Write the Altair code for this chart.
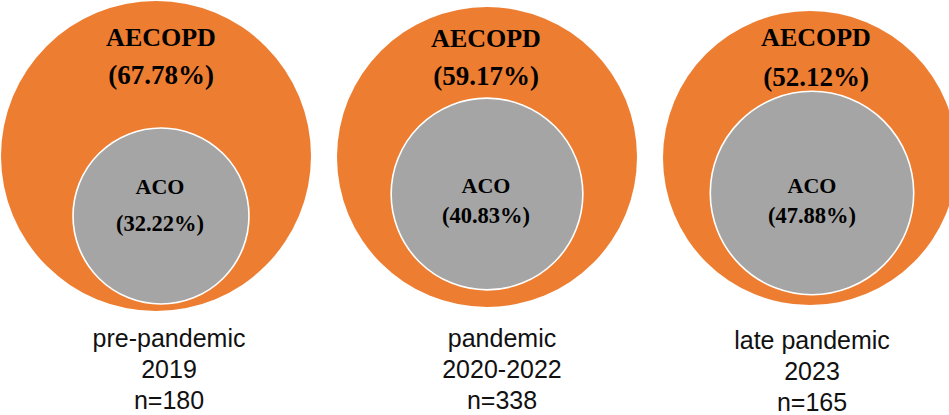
import altair as alt
import pandas as pd

# ---- data ----
periods = ["pre-pandemic", "pandemic", "late pandemic"]
years = ["2019", "2020-2022", "2023"]
n_values = [180, 338, 165]
aecopd_pct = [67.78, 59.17, 52.12]
aco_pct = [32.22, 40.83, 47.88]

# ---- layout (pixel space of the 949x415 canvas) ----
W, H = 949, 415
outer_cx = [156, 487, 810]
outer_cy = [156, 157, 158]
outer_d = [310, 300, 294]
inner_cx = [161, 487, 812]
inner_cy = [216, 194, 193]
title_x = [161, 486, 816]
title_y = [46, 47, 46]      # baseline of "AECOPD"
title_pct_y = [84, 85, 86]
aco_x = [160, 486, 812]
aco_y = [194, 193, 193]
aco_pct_y = [231, 223, 223]
label_x = [169, 502, 812]
label_y0 = [347, 347, 349]
line_gap = 31

ORANGE = "#ED7D31"
GRAY = "#A5A5A5"

circ_rows = []
for i in range(3):
    circ_rows.append(dict(kind="outer", x=outer_cx[i], y=outer_cy[i],
                          s=outer_d[i] ** 2, share=100.0))
    d_in = outer_d[i] * (aco_pct[i] / 100.0) ** 0.5  # area proportional to ACO share
    circ_rows.append(dict(kind="inner", x=inner_cx[i], y=inner_cy[i],
                          s=d_in ** 2, share=aco_pct[i]))
circ = pd.DataFrame(circ_rows)

serif_rows = []
for i in range(3):
    serif_rows.append(dict(t="AECOPD", x=title_x[i], y=title_y[i], fs=26))
    serif_rows.append(dict(t=f"({aecopd_pct[i]:.2f}%)", x=title_x[i], y=title_pct_y[i], fs=27))
    serif_rows.append(dict(t="ACO", x=aco_x[i], y=aco_y[i], fs=22))
    serif_rows.append(dict(t=f"({aco_pct[i]:.2f}%)", x=aco_x[i], y=aco_pct_y[i], fs=22.5))
serif = pd.DataFrame(serif_rows)

sans_rows = []
for i in range(3):
    sans_rows.append(dict(t=periods[i], x=label_x[i], y=label_y0[i]))
    sans_rows.append(dict(t=years[i], x=label_x[i], y=label_y0[i] + line_gap))
    sans_rows.append(dict(t=f"n={n_values[i]}", x=label_x[i], y=label_y0[i] + 2 * line_gap))
sans = pd.DataFrame(sans_rows)

xs = alt.Scale(domain=[0, W], nice=False, zero=False)
ys = alt.Scale(domain=[0, H], nice=False, zero=False, reverse=True)

X = alt.X("x:Q", scale=xs, axis=None)
Y = alt.Y("y:Q", scale=ys, axis=None)

outer = alt.Chart(circ).transform_filter(alt.datum.kind == "outer").mark_circle(
    color=ORANGE, opacity=1
).encode(x=X, y=Y, size=alt.Size("s:Q", scale=None, legend=None))

inner = alt.Chart(circ).transform_filter(alt.datum.kind == "inner").mark_circle(
    color=GRAY, opacity=1, stroke="#FFFFFF", strokeWidth=1.6, strokeOpacity=1
).encode(x=X, y=Y, size=alt.Size("s:Q", scale=None, legend=None))

serif_text = alt.Chart(serif).mark_text(
    font="Liberation Serif", fontWeight="bold", color="#000000",
    align="center", baseline="alphabetic"
).encode(x=X, y=Y, text="t:N", size=alt.Size("fs:Q", scale=None, legend=None))

sans_text = alt.Chart(sans).mark_text(
    font="Liberation Sans", fontSize=25, color="#111111",
    align="center", baseline="alphabetic"
).encode(x=X, y=Y, text="t:N")

chart = alt.layer(outer, inner, serif_text, sans_text).properties(
    width=W, height=H, padding=0, autosize=alt.AutoSizeParams(type="none"),
    background="white"
).configure_view(stroke=None)

chart.save("out.html", embed_options={"renderer": "svg", "actions": False})
